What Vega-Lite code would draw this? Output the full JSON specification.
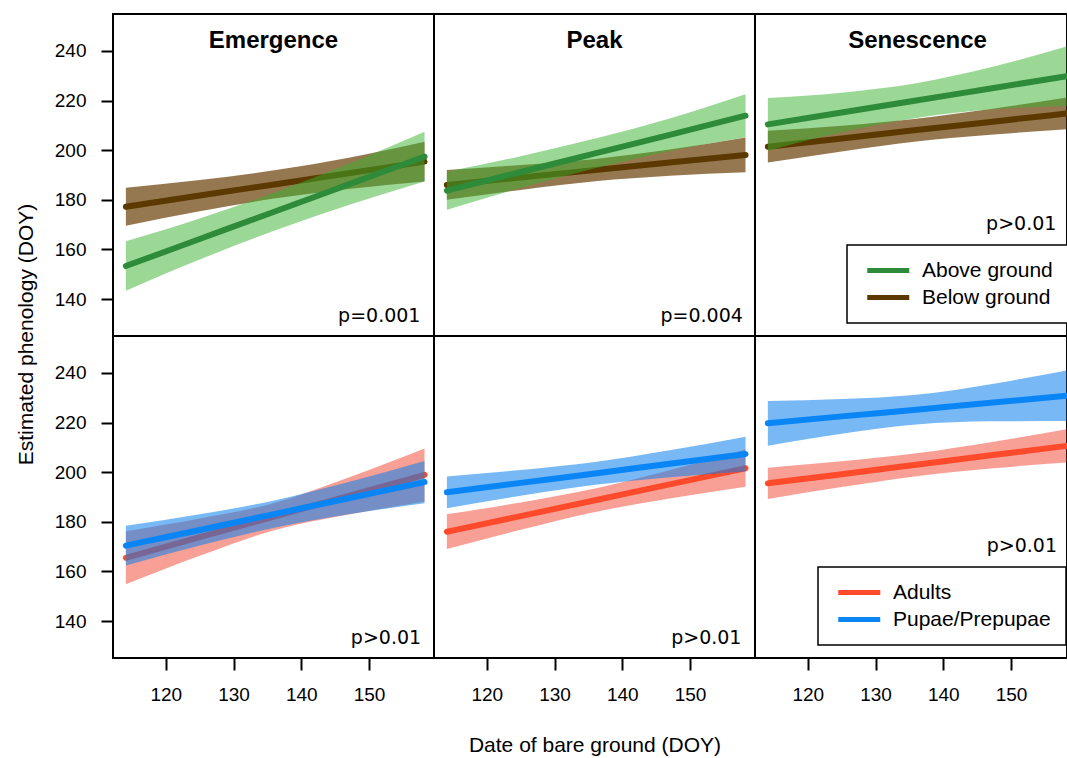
{
  "$schema": "https://vega.github.io/schema/vega-lite/v6.json",
  "background": "white",
  "autosize": {"type": "pad"},
  "padding": {"left": 14, "top": 13, "right": 0, "bottom": 0},
  "config": {
    "view": {"stroke": "black", "strokeWidth": 2},
    "axis": {"domain": false, "grid": false, "tickColor": "black", "tickWidth": 2, "tickSize": 12, "labelColor": "black", "labelFont": "Liberation Sans", "labelFontSize": 19, "labelPadding": 15, "titleFont": "Liberation Sans", "titleFontSize": 21, "titleFontWeight": "normal", "titleColor": "black"},
    "legend": {"strokeColor": "black", "strokeWidth": 1.5, "fillColor": "white", "padding": 15, "symbolType": "M-1,0H7", "symbolStrokeWidth": 5, "symbolSize": 110.25, "labelFont": "Liberation Sans", "labelFontSize": 21, "labelColor": "black", "labelOffset": 39, "rowPadding": 5, "labelLimit": 400}
  },
  "datasets": {
    "fits": [
      {"row": "Location", "phase": "Emergence", "series": "Above ground", "x": 114.1, "fit": 153.3, "lo": 143.3, "hi": 163.3},
      {"row": "Location", "phase": "Emergence", "series": "Above ground", "x": 125, "fit": 164.2, "lo": 155.9, "hi": 172.5},
      {"row": "Location", "phase": "Emergence", "series": "Above ground", "x": 136, "fit": 175.2, "lo": 167.5, "hi": 182.9},
      {"row": "Location", "phase": "Emergence", "series": "Above ground", "x": 147, "fit": 186.2, "lo": 177.9, "hi": 194.5},
      {"row": "Location", "phase": "Emergence", "series": "Above ground", "x": 158.2, "fit": 197.4, "lo": 187.4, "hi": 207.4},
      {"row": "Location", "phase": "Emergence", "series": "Below ground", "x": 114.1, "fit": 177.2, "lo": 169.5, "hi": 184.9},
      {"row": "Location", "phase": "Emergence", "series": "Below ground", "x": 125, "fit": 181.7, "lo": 175.4, "hi": 188.0},
      {"row": "Location", "phase": "Emergence", "series": "Below ground", "x": 136, "fit": 186.2, "lo": 180.5, "hi": 191.9},
      {"row": "Location", "phase": "Emergence", "series": "Below ground", "x": 147, "fit": 190.7, "lo": 184.4, "hi": 197.0},
      {"row": "Location", "phase": "Emergence", "series": "Below ground", "x": 158.2, "fit": 195.4, "lo": 187.4, "hi": 203.4},
      {"row": "Location", "phase": "Peak", "series": "Above ground", "x": 114.1, "fit": 183.7, "lo": 176.0, "hi": 191.4},
      {"row": "Location", "phase": "Peak", "series": "Above ground", "x": 125, "fit": 191.2, "lo": 184.8, "hi": 197.6},
      {"row": "Location", "phase": "Peak", "series": "Above ground", "x": 136, "fit": 198.7, "lo": 192.7, "hi": 204.7},
      {"row": "Location", "phase": "Peak", "series": "Above ground", "x": 147, "fit": 206.2, "lo": 199.6, "hi": 212.8},
      {"row": "Location", "phase": "Peak", "series": "Above ground", "x": 158.2, "fit": 213.9, "lo": 205.2, "hi": 222.6},
      {"row": "Location", "phase": "Peak", "series": "Below ground", "x": 114.1, "fit": 186.0, "lo": 180.0, "hi": 192.0},
      {"row": "Location", "phase": "Peak", "series": "Below ground", "x": 125, "fit": 189.0, "lo": 184.0, "hi": 194.0},
      {"row": "Location", "phase": "Peak", "series": "Below ground", "x": 136, "fit": 192.0, "lo": 187.5, "hi": 196.5},
      {"row": "Location", "phase": "Peak", "series": "Below ground", "x": 147, "fit": 195.0, "lo": 189.7, "hi": 200.3},
      {"row": "Location", "phase": "Peak", "series": "Below ground", "x": 158.2, "fit": 198.1, "lo": 191.1, "hi": 205.1},
      {"row": "Location", "phase": "Senescence", "series": "Above ground", "x": 114.1, "fit": 210.4, "lo": 199.8, "hi": 221.0},
      {"row": "Location", "phase": "Senescence", "series": "Above ground", "x": 125, "fit": 215.2, "lo": 207.2, "hi": 223.2},
      {"row": "Location", "phase": "Senescence", "series": "Above ground", "x": 136, "fit": 220.0, "lo": 213.0, "hi": 227.0},
      {"row": "Location", "phase": "Senescence", "series": "Above ground", "x": 147, "fit": 224.9, "lo": 216.4, "hi": 233.4},
      {"row": "Location", "phase": "Senescence", "series": "Above ground", "x": 158.2, "fit": 229.8, "lo": 217.8, "hi": 241.8},
      {"row": "Location", "phase": "Senescence", "series": "Below ground", "x": 114.1, "fit": 201.4, "lo": 195.0, "hi": 207.8},
      {"row": "Location", "phase": "Senescence", "series": "Below ground", "x": 125, "fit": 204.7, "lo": 199.5, "hi": 209.9},
      {"row": "Location", "phase": "Senescence", "series": "Below ground", "x": 136, "fit": 208.1, "lo": 203.5, "hi": 212.7},
      {"row": "Location", "phase": "Senescence", "series": "Below ground", "x": 147, "fit": 211.4, "lo": 206.2, "hi": 216.6},
      {"row": "Location", "phase": "Senescence", "series": "Below ground", "x": 158.2, "fit": 214.8, "lo": 208.4, "hi": 221.2},
      {"row": "Stage", "phase": "Emergence", "series": "Adults", "x": 114.1, "fit": 165.5, "lo": 154.8, "hi": 176.2},
      {"row": "Stage", "phase": "Emergence", "series": "Adults", "x": 125, "fit": 173.8, "lo": 166.3, "hi": 181.3},
      {"row": "Stage", "phase": "Emergence", "series": "Adults", "x": 136, "fit": 182.1, "lo": 176.6, "hi": 187.6},
      {"row": "Stage", "phase": "Emergence", "series": "Adults", "x": 147, "fit": 190.4, "lo": 182.9, "hi": 197.9},
      {"row": "Stage", "phase": "Emergence", "series": "Adults", "x": 158.2, "fit": 198.9, "lo": 188.2, "hi": 209.6},
      {"row": "Stage", "phase": "Emergence", "series": "Pupae/Prepupae", "x": 114.1, "fit": 170.4, "lo": 162.4, "hi": 178.4},
      {"row": "Stage", "phase": "Emergence", "series": "Pupae/Prepupae", "x": 125, "fit": 176.7, "lo": 170.4, "hi": 183.0},
      {"row": "Stage", "phase": "Emergence", "series": "Pupae/Prepupae", "x": 136, "fit": 183.1, "lo": 177.6, "hi": 188.6},
      {"row": "Stage", "phase": "Emergence", "series": "Pupae/Prepupae", "x": 147, "fit": 189.5, "lo": 183.0, "hi": 196.0},
      {"row": "Stage", "phase": "Emergence", "series": "Pupae/Prepupae", "x": 158.2, "fit": 196.0, "lo": 187.5, "hi": 204.5},
      {"row": "Stage", "phase": "Peak", "series": "Adults", "x": 114.1, "fit": 176.0, "lo": 169.0, "hi": 183.0},
      {"row": "Stage", "phase": "Peak", "series": "Adults", "x": 125, "fit": 182.3, "lo": 176.8, "hi": 187.8},
      {"row": "Stage", "phase": "Peak", "series": "Adults", "x": 136, "fit": 188.7, "lo": 184.0, "hi": 193.4},
      {"row": "Stage", "phase": "Peak", "series": "Adults", "x": 147, "fit": 195.1, "lo": 189.4, "hi": 200.8},
      {"row": "Stage", "phase": "Peak", "series": "Adults", "x": 158.2, "fit": 201.6, "lo": 194.1, "hi": 209.1},
      {"row": "Stage", "phase": "Peak", "series": "Pupae/Prepupae", "x": 114.1, "fit": 191.9, "lo": 185.5, "hi": 198.3},
      {"row": "Stage", "phase": "Peak", "series": "Pupae/Prepupae", "x": 125, "fit": 195.7, "lo": 190.5, "hi": 200.9},
      {"row": "Stage", "phase": "Peak", "series": "Pupae/Prepupae", "x": 136, "fit": 199.5, "lo": 194.9, "hi": 204.1},
      {"row": "Stage", "phase": "Peak", "series": "Pupae/Prepupae", "x": 147, "fit": 203.4, "lo": 198.0, "hi": 208.8},
      {"row": "Stage", "phase": "Peak", "series": "Pupae/Prepupae", "x": 158.2, "fit": 207.3, "lo": 200.3, "hi": 214.3},
      {"row": "Stage", "phase": "Senescence", "series": "Adults", "x": 114.1, "fit": 195.5, "lo": 189.2, "hi": 201.8},
      {"row": "Stage", "phase": "Senescence", "series": "Adults", "x": 125, "fit": 199.2, "lo": 194.0, "hi": 204.4},
      {"row": "Stage", "phase": "Senescence", "series": "Adults", "x": 136, "fit": 203.0, "lo": 198.4, "hi": 207.6},
      {"row": "Stage", "phase": "Senescence", "series": "Adults", "x": 147, "fit": 206.8, "lo": 201.5, "hi": 212.1},
      {"row": "Stage", "phase": "Senescence", "series": "Adults", "x": 158.2, "fit": 210.6, "lo": 203.9, "hi": 217.3},
      {"row": "Stage", "phase": "Senescence", "series": "Pupae/Prepupae", "x": 114.1, "fit": 219.7, "lo": 210.7, "hi": 228.7},
      {"row": "Stage", "phase": "Senescence", "series": "Pupae/Prepupae", "x": 125, "fit": 222.5, "lo": 215.5, "hi": 229.5},
      {"row": "Stage", "phase": "Senescence", "series": "Pupae/Prepupae", "x": 136, "fit": 225.2, "lo": 219.2, "hi": 231.2},
      {"row": "Stage", "phase": "Senescence", "series": "Pupae/Prepupae", "x": 147, "fit": 228.0, "lo": 220.5, "hi": 235.5},
      {"row": "Stage", "phase": "Senescence", "series": "Pupae/Prepupae", "x": 158.2, "fit": 230.8, "lo": 220.6, "hi": 241.0}
    ],
    "annot": [
      {"row": "Location", "phase": "Emergence", "p": "p=0.001"},
      {"row": "Location", "phase": "Peak", "p": "p=0.004"},
      {"row": "Location", "phase": "Senescence", "p": "p>0.01"},
      {"row": "Stage", "phase": "Emergence", "p": "p>0.01"},
      {"row": "Stage", "phase": "Peak", "p": "p>0.01"},
      {"row": "Stage", "phase": "Senescence", "p": "p>0.01"}
    ]
  },
  "columns": 3,
  "spacing": 0,
  "bounds": "flush",
  "resolve": {
    "scale": {"x": "independent", "y": "independent", "fill": "independent", "stroke": "independent"},
    "axis": {"x": "independent", "y": "independent"},
    "legend": {"stroke": "independent", "fill": "independent"}
  },
  "concat": [
    {
      "width": 321, "height": 322,
      "layer": [
        {"data": {"name": "fits"}, "transform": [{"filter": "datum.row === 'Location' && datum.phase === 'Emergence' && datum.series === 'Below ground'"}],
         "mark": {"type": "area", "opacity": 0.7, "clip": true, "interpolate": "monotone"},
         "encoding": {
           "x": {"field": "x", "type": "quantitative", "scale": {"domain": [112.2, 159.6], "nice": false, "zero": false}, "axis": null},
           "y": {"field": "lo", "type": "quantitative", "scale": {"domain": [125.1, 254.9], "nice": false, "zero": false}, "axis": {"values": [140, 160, 180, 200, 220, 240], "title": "Estimated phenology (DOY)", "titleY": 320, "titlePadding": 18}},
           "y2": {"field": "hi"},
           "fill": {"field": "series", "type": "nominal", "scale": {"domain": ["Below ground", "Above ground"], "range": ["#693E05", "#37B12D"]}, "legend": null}}},
        {"data": {"name": "fits"}, "transform": [{"filter": "datum.row === 'Location' && datum.phase === 'Emergence' && datum.series === 'Below ground'"}],
         "mark": {"type": "line", "strokeWidth": 6, "strokeCap": "round", "clip": true, "interpolate": "monotone"},
         "encoding": {
           "x": {"field": "x", "type": "quantitative", "scale": {"domain": [112.2, 159.6], "nice": false, "zero": false}, "axis": null},
           "y": {"field": "fit", "type": "quantitative", "scale": {"domain": [125.1, 254.9], "nice": false, "zero": false}, "axis": {"values": [140, 160, 180, 200, 220, 240], "title": "Estimated phenology (DOY)", "titleY": 320, "titlePadding": 18}},
           "stroke": {"field": "series", "type": "nominal", "scale": {"domain": ["Above ground", "Below ground"], "range": ["#2E8B3A", "#5C3900"]}, "legend": null}}},
        {"data": {"name": "fits"}, "transform": [{"filter": "datum.row === 'Location' && datum.phase === 'Emergence' && datum.series === 'Above ground'"}],
         "mark": {"type": "area", "opacity": 0.5, "clip": true, "interpolate": "monotone"},
         "encoding": {
           "x": {"field": "x", "type": "quantitative", "scale": {"domain": [112.2, 159.6], "nice": false, "zero": false}, "axis": null},
           "y": {"field": "lo", "type": "quantitative", "scale": {"domain": [125.1, 254.9], "nice": false, "zero": false}, "axis": {"values": [140, 160, 180, 200, 220, 240], "title": "Estimated phenology (DOY)", "titleY": 320, "titlePadding": 18}},
           "y2": {"field": "hi"},
           "fill": {"field": "series", "type": "nominal", "scale": {"domain": ["Below ground", "Above ground"], "range": ["#693E05", "#37B12D"]}, "legend": null}}},
        {"data": {"name": "fits"}, "transform": [{"filter": "datum.row === 'Location' && datum.phase === 'Emergence' && datum.series === 'Above ground'"}],
         "mark": {"type": "line", "strokeWidth": 6, "strokeCap": "round", "clip": true, "interpolate": "monotone"},
         "encoding": {
           "x": {"field": "x", "type": "quantitative", "scale": {"domain": [112.2, 159.6], "nice": false, "zero": false}, "axis": null},
           "y": {"field": "fit", "type": "quantitative", "scale": {"domain": [125.1, 254.9], "nice": false, "zero": false}, "axis": {"values": [140, 160, 180, 200, 220, 240], "title": "Estimated phenology (DOY)", "titleY": 320, "titlePadding": 18}},
           "stroke": {"field": "series", "type": "nominal", "scale": {"domain": ["Above ground", "Below ground"], "range": ["#2E8B3A", "#5C3900"]}, "legend": null}}},
        {"data": {"name": "annot"}, "transform": [{"filter": "datum.row === 'Location' && datum.phase === 'Emergence'"}],
         "mark": {"type": "text", "font": "Liberation Sans", "fontWeight": "bold", "fontSize": 24, "color": "black", "baseline": "middle"},
         "encoding": {
           "x": {"datum": 135.9, "type": "quantitative", "scale": {"domain": [112.2, 159.6], "nice": false, "zero": false}, "axis": null},
           "y": {"datum": 244.0, "type": "quantitative", "scale": {"domain": [125.1, 254.9], "nice": false, "zero": false}, "axis": {"values": [140, 160, 180, 200, 220, 240], "title": "Estimated phenology (DOY)", "titleY": 320, "titlePadding": 18}},
           "text": {"field": "phase"}}},
        {"data": {"name": "annot"}, "transform": [{"filter": "datum.row === 'Location' && datum.phase === 'Emergence'"}],
         "mark": {"type": "text", "font": "DejaVu Sans", "fontSize": 19, "color": "black", "align": "right", "baseline": "alphabetic"},
         "encoding": {
           "x": {"datum": 157.6, "type": "quantitative", "scale": {"domain": [112.2, 159.6], "nice": false, "zero": false}, "axis": null},
           "y": {"datum": 130.8, "type": "quantitative", "scale": {"domain": [125.1, 254.9], "nice": false, "zero": false}, "axis": {"values": [140, 160, 180, 200, 220, 240], "title": "Estimated phenology (DOY)", "titleY": 320, "titlePadding": 18}},
           "text": {"field": "p"}}}
      ]
    },
    {
      "width": 321, "height": 322,
      "layer": [
        {"data": {"name": "fits"}, "transform": [{"filter": "datum.row === 'Location' && datum.phase === 'Peak' && datum.series === 'Below ground'"}],
         "mark": {"type": "area", "opacity": 0.7, "clip": true, "interpolate": "monotone"},
         "encoding": {
           "x": {"field": "x", "type": "quantitative", "scale": {"domain": [112.2, 159.6], "nice": false, "zero": false}, "axis": null},
           "y": {"field": "lo", "type": "quantitative", "scale": {"domain": [125.1, 254.9], "nice": false, "zero": false}, "axis": null},
           "y2": {"field": "hi"},
           "fill": {"field": "series", "type": "nominal", "scale": {"domain": ["Below ground", "Above ground"], "range": ["#693E05", "#37B12D"]}, "legend": null}}},
        {"data": {"name": "fits"}, "transform": [{"filter": "datum.row === 'Location' && datum.phase === 'Peak' && datum.series === 'Below ground'"}],
         "mark": {"type": "line", "strokeWidth": 6, "strokeCap": "round", "clip": true, "interpolate": "monotone"},
         "encoding": {
           "x": {"field": "x", "type": "quantitative", "scale": {"domain": [112.2, 159.6], "nice": false, "zero": false}, "axis": null},
           "y": {"field": "fit", "type": "quantitative", "scale": {"domain": [125.1, 254.9], "nice": false, "zero": false}, "axis": null},
           "stroke": {"field": "series", "type": "nominal", "scale": {"domain": ["Above ground", "Below ground"], "range": ["#2E8B3A", "#5C3900"]}, "legend": null}}},
        {"data": {"name": "fits"}, "transform": [{"filter": "datum.row === 'Location' && datum.phase === 'Peak' && datum.series === 'Above ground'"}],
         "mark": {"type": "area", "opacity": 0.5, "clip": true, "interpolate": "monotone"},
         "encoding": {
           "x": {"field": "x", "type": "quantitative", "scale": {"domain": [112.2, 159.6], "nice": false, "zero": false}, "axis": null},
           "y": {"field": "lo", "type": "quantitative", "scale": {"domain": [125.1, 254.9], "nice": false, "zero": false}, "axis": null},
           "y2": {"field": "hi"},
           "fill": {"field": "series", "type": "nominal", "scale": {"domain": ["Below ground", "Above ground"], "range": ["#693E05", "#37B12D"]}, "legend": null}}},
        {"data": {"name": "fits"}, "transform": [{"filter": "datum.row === 'Location' && datum.phase === 'Peak' && datum.series === 'Above ground'"}],
         "mark": {"type": "line", "strokeWidth": 6, "strokeCap": "round", "clip": true, "interpolate": "monotone"},
         "encoding": {
           "x": {"field": "x", "type": "quantitative", "scale": {"domain": [112.2, 159.6], "nice": false, "zero": false}, "axis": null},
           "y": {"field": "fit", "type": "quantitative", "scale": {"domain": [125.1, 254.9], "nice": false, "zero": false}, "axis": null},
           "stroke": {"field": "series", "type": "nominal", "scale": {"domain": ["Above ground", "Below ground"], "range": ["#2E8B3A", "#5C3900"]}, "legend": null}}},
        {"data": {"name": "annot"}, "transform": [{"filter": "datum.row === 'Location' && datum.phase === 'Peak'"}],
         "mark": {"type": "text", "font": "Liberation Sans", "fontWeight": "bold", "fontSize": 24, "color": "black", "baseline": "middle"},
         "encoding": {
           "x": {"datum": 135.9, "type": "quantitative", "scale": {"domain": [112.2, 159.6], "nice": false, "zero": false}, "axis": null},
           "y": {"datum": 244.0, "type": "quantitative", "scale": {"domain": [125.1, 254.9], "nice": false, "zero": false}, "axis": null},
           "text": {"field": "phase"}}},
        {"data": {"name": "annot"}, "transform": [{"filter": "datum.row === 'Location' && datum.phase === 'Peak'"}],
         "mark": {"type": "text", "font": "DejaVu Sans", "fontSize": 19, "color": "black", "align": "right", "baseline": "alphabetic"},
         "encoding": {
           "x": {"datum": 157.8, "type": "quantitative", "scale": {"domain": [112.2, 159.6], "nice": false, "zero": false}, "axis": null},
           "y": {"datum": 130.8, "type": "quantitative", "scale": {"domain": [125.1, 254.9], "nice": false, "zero": false}, "axis": null},
           "text": {"field": "p"}}}
      ]
    },
    {
      "width": 312, "height": 322,
      "layer": [
        {"data": {"name": "fits"}, "transform": [{"filter": "datum.row === 'Location' && datum.phase === 'Senescence' && datum.series === 'Below ground'"}],
         "mark": {"type": "area", "opacity": 0.7, "clip": true, "interpolate": "monotone"},
         "encoding": {
           "x": {"field": "x", "type": "quantitative", "scale": {"domain": [112.2, 158.27], "nice": false, "zero": false}, "axis": null},
           "y": {"field": "lo", "type": "quantitative", "scale": {"domain": [125.1, 254.9], "nice": false, "zero": false}, "axis": null},
           "y2": {"field": "hi"},
           "fill": {"field": "series", "type": "nominal", "scale": {"domain": ["Below ground", "Above ground"], "range": ["#693E05", "#37B12D"]}, "legend": null}}},
        {"data": {"name": "fits"}, "transform": [{"filter": "datum.row === 'Location' && datum.phase === 'Senescence' && datum.series === 'Below ground'"}],
         "mark": {"type": "line", "strokeWidth": 6, "strokeCap": "round", "clip": true, "interpolate": "monotone"},
         "encoding": {
           "x": {"field": "x", "type": "quantitative", "scale": {"domain": [112.2, 158.27], "nice": false, "zero": false}, "axis": null},
           "y": {"field": "fit", "type": "quantitative", "scale": {"domain": [125.1, 254.9], "nice": false, "zero": false}, "axis": null},
           "stroke": {"field": "series", "type": "nominal", "scale": {"domain": ["Above ground", "Below ground"], "range": ["#2E8B3A", "#5C3900"]}, "legend": {"orient": "none", "legendX": 92, "legendY": 231, "title": null}}}},
        {"data": {"name": "fits"}, "transform": [{"filter": "datum.row === 'Location' && datum.phase === 'Senescence' && datum.series === 'Above ground'"}],
         "mark": {"type": "area", "opacity": 0.5, "clip": true, "interpolate": "monotone"},
         "encoding": {
           "x": {"field": "x", "type": "quantitative", "scale": {"domain": [112.2, 158.27], "nice": false, "zero": false}, "axis": null},
           "y": {"field": "lo", "type": "quantitative", "scale": {"domain": [125.1, 254.9], "nice": false, "zero": false}, "axis": null},
           "y2": {"field": "hi"},
           "fill": {"field": "series", "type": "nominal", "scale": {"domain": ["Below ground", "Above ground"], "range": ["#693E05", "#37B12D"]}, "legend": null}}},
        {"data": {"name": "fits"}, "transform": [{"filter": "datum.row === 'Location' && datum.phase === 'Senescence' && datum.series === 'Above ground'"}],
         "mark": {"type": "line", "strokeWidth": 6, "strokeCap": "round", "clip": true, "interpolate": "monotone"},
         "encoding": {
           "x": {"field": "x", "type": "quantitative", "scale": {"domain": [112.2, 158.27], "nice": false, "zero": false}, "axis": null},
           "y": {"field": "fit", "type": "quantitative", "scale": {"domain": [125.1, 254.9], "nice": false, "zero": false}, "axis": null},
           "stroke": {"field": "series", "type": "nominal", "scale": {"domain": ["Above ground", "Below ground"], "range": ["#2E8B3A", "#5C3900"]}, "legend": {"orient": "none", "legendX": 92, "legendY": 231, "title": null}}}},
        {"data": {"name": "annot"}, "transform": [{"filter": "datum.row === 'Location' && datum.phase === 'Senescence'"}],
         "mark": {"type": "text", "font": "Liberation Sans", "fontWeight": "bold", "fontSize": 24, "color": "black", "baseline": "middle"},
         "encoding": {
           "x": {"datum": 136.2, "type": "quantitative", "scale": {"domain": [112.2, 158.27], "nice": false, "zero": false}, "axis": null},
           "y": {"datum": 244.0, "type": "quantitative", "scale": {"domain": [125.1, 254.9], "nice": false, "zero": false}, "axis": null},
           "text": {"field": "phase"}}},
        {"data": {"name": "annot"}, "transform": [{"filter": "datum.row === 'Location' && datum.phase === 'Senescence'"}],
         "mark": {"type": "text", "font": "DejaVu Sans", "fontSize": 19, "color": "black", "align": "right", "baseline": "alphabetic"},
         "encoding": {
           "x": {"datum": 156.7, "type": "quantitative", "scale": {"domain": [112.2, 158.27], "nice": false, "zero": false}, "axis": null},
           "y": {"datum": 167.7, "type": "quantitative", "scale": {"domain": [125.1, 254.9], "nice": false, "zero": false}, "axis": null},
           "text": {"field": "p"}}}
      ]
    },
    {
      "width": 321, "height": 322,
      "layer": [
        {"data": {"name": "fits"}, "transform": [{"filter": "datum.row === 'Stage' && datum.phase === 'Emergence' && datum.series === 'Adults'"}],
         "mark": {"type": "area", "opacity": 0.5, "clip": true, "interpolate": "monotone"},
         "encoding": {
           "x": {"field": "x", "type": "quantitative", "scale": {"domain": [112.2, 159.6], "nice": false, "zero": false}, "axis": {"values": [120, 130, 140, 150], "title": null}},
           "y": {"field": "lo", "type": "quantitative", "scale": {"domain": [125.1, 254.9], "nice": false, "zero": false}, "axis": {"values": [140, 160, 180, 200, 220, 240], "title": null}},
           "y2": {"field": "hi"},
           "fill": {"field": "series", "type": "nominal", "scale": {"domain": ["Pupae/Prepupae", "Adults"], "range": ["#0A80ED", "#F1412D"]}, "legend": null}}},
        {"data": {"name": "fits"}, "transform": [{"filter": "datum.row === 'Stage' && datum.phase === 'Emergence' && datum.series === 'Adults'"}],
         "mark": {"type": "line", "strokeWidth": 6, "strokeCap": "round", "clip": true, "interpolate": "monotone"},
         "encoding": {
           "x": {"field": "x", "type": "quantitative", "scale": {"domain": [112.2, 159.6], "nice": false, "zero": false}, "axis": {"values": [120, 130, 140, 150], "title": null}},
           "y": {"field": "fit", "type": "quantitative", "scale": {"domain": [125.1, 254.9], "nice": false, "zero": false}, "axis": {"values": [140, 160, 180, 200, 220, 240], "title": null}},
           "stroke": {"field": "series", "type": "nominal", "scale": {"domain": ["Adults", "Pupae/Prepupae"], "range": ["#FF4B2B", "#0A85F5"]}, "legend": null}}},
        {"data": {"name": "fits"}, "transform": [{"filter": "datum.row === 'Stage' && datum.phase === 'Emergence' && datum.series === 'Pupae/Prepupae'"}],
         "mark": {"type": "area", "opacity": 0.55, "clip": true, "interpolate": "monotone"},
         "encoding": {
           "x": {"field": "x", "type": "quantitative", "scale": {"domain": [112.2, 159.6], "nice": false, "zero": false}, "axis": {"values": [120, 130, 140, 150], "title": null}},
           "y": {"field": "lo", "type": "quantitative", "scale": {"domain": [125.1, 254.9], "nice": false, "zero": false}, "axis": {"values": [140, 160, 180, 200, 220, 240], "title": null}},
           "y2": {"field": "hi"},
           "fill": {"field": "series", "type": "nominal", "scale": {"domain": ["Pupae/Prepupae", "Adults"], "range": ["#0A80ED", "#F1412D"]}, "legend": null}}},
        {"data": {"name": "fits"}, "transform": [{"filter": "datum.row === 'Stage' && datum.phase === 'Emergence' && datum.series === 'Pupae/Prepupae'"}],
         "mark": {"type": "line", "strokeWidth": 6, "strokeCap": "round", "clip": true, "interpolate": "monotone"},
         "encoding": {
           "x": {"field": "x", "type": "quantitative", "scale": {"domain": [112.2, 159.6], "nice": false, "zero": false}, "axis": {"values": [120, 130, 140, 150], "title": null}},
           "y": {"field": "fit", "type": "quantitative", "scale": {"domain": [125.1, 254.9], "nice": false, "zero": false}, "axis": {"values": [140, 160, 180, 200, 220, 240], "title": null}},
           "stroke": {"field": "series", "type": "nominal", "scale": {"domain": ["Adults", "Pupae/Prepupae"], "range": ["#FF4B2B", "#0A85F5"]}, "legend": null}}},
        {"data": {"name": "annot"}, "transform": [{"filter": "datum.row === 'Stage' && datum.phase === 'Emergence'"}],
         "mark": {"type": "text", "font": "DejaVu Sans", "fontSize": 19, "color": "black", "align": "right", "baseline": "alphabetic"},
         "encoding": {
           "x": {"datum": 157.7, "type": "quantitative", "scale": {"domain": [112.2, 159.6], "nice": false, "zero": false}, "axis": {"values": [120, 130, 140, 150], "title": null}},
           "y": {"datum": 130.8, "type": "quantitative", "scale": {"domain": [125.1, 254.9], "nice": false, "zero": false}, "axis": {"values": [140, 160, 180, 200, 220, 240], "title": null}},
           "text": {"field": "p"}}}
      ]
    },
    {
      "width": 321, "height": 322,
      "layer": [
        {"data": {"name": "fits"}, "transform": [{"filter": "datum.row === 'Stage' && datum.phase === 'Peak' && datum.series === 'Adults'"}],
         "mark": {"type": "area", "opacity": 0.5, "clip": true, "interpolate": "monotone"},
         "encoding": {
           "x": {"field": "x", "type": "quantitative", "scale": {"domain": [112.2, 159.6], "nice": false, "zero": false}, "axis": {"values": [120, 130, 140, 150], "title": "Date of bare ground (DOY)", "titlePadding": 30}},
           "y": {"field": "lo", "type": "quantitative", "scale": {"domain": [125.1, 254.9], "nice": false, "zero": false}, "axis": null},
           "y2": {"field": "hi"},
           "fill": {"field": "series", "type": "nominal", "scale": {"domain": ["Pupae/Prepupae", "Adults"], "range": ["#0A80ED", "#F1412D"]}, "legend": null}}},
        {"data": {"name": "fits"}, "transform": [{"filter": "datum.row === 'Stage' && datum.phase === 'Peak' && datum.series === 'Adults'"}],
         "mark": {"type": "line", "strokeWidth": 6, "strokeCap": "round", "clip": true, "interpolate": "monotone"},
         "encoding": {
           "x": {"field": "x", "type": "quantitative", "scale": {"domain": [112.2, 159.6], "nice": false, "zero": false}, "axis": {"values": [120, 130, 140, 150], "title": "Date of bare ground (DOY)", "titlePadding": 30}},
           "y": {"field": "fit", "type": "quantitative", "scale": {"domain": [125.1, 254.9], "nice": false, "zero": false}, "axis": null},
           "stroke": {"field": "series", "type": "nominal", "scale": {"domain": ["Adults", "Pupae/Prepupae"], "range": ["#FF4B2B", "#0A85F5"]}, "legend": null}}},
        {"data": {"name": "fits"}, "transform": [{"filter": "datum.row === 'Stage' && datum.phase === 'Peak' && datum.series === 'Pupae/Prepupae'"}],
         "mark": {"type": "area", "opacity": 0.55, "clip": true, "interpolate": "monotone"},
         "encoding": {
           "x": {"field": "x", "type": "quantitative", "scale": {"domain": [112.2, 159.6], "nice": false, "zero": false}, "axis": {"values": [120, 130, 140, 150], "title": "Date of bare ground (DOY)", "titlePadding": 30}},
           "y": {"field": "lo", "type": "quantitative", "scale": {"domain": [125.1, 254.9], "nice": false, "zero": false}, "axis": null},
           "y2": {"field": "hi"},
           "fill": {"field": "series", "type": "nominal", "scale": {"domain": ["Pupae/Prepupae", "Adults"], "range": ["#0A80ED", "#F1412D"]}, "legend": null}}},
        {"data": {"name": "fits"}, "transform": [{"filter": "datum.row === 'Stage' && datum.phase === 'Peak' && datum.series === 'Pupae/Prepupae'"}],
         "mark": {"type": "line", "strokeWidth": 6, "strokeCap": "round", "clip": true, "interpolate": "monotone"},
         "encoding": {
           "x": {"field": "x", "type": "quantitative", "scale": {"domain": [112.2, 159.6], "nice": false, "zero": false}, "axis": {"values": [120, 130, 140, 150], "title": "Date of bare ground (DOY)", "titlePadding": 30}},
           "y": {"field": "fit", "type": "quantitative", "scale": {"domain": [125.1, 254.9], "nice": false, "zero": false}, "axis": null},
           "stroke": {"field": "series", "type": "nominal", "scale": {"domain": ["Adults", "Pupae/Prepupae"], "range": ["#FF4B2B", "#0A85F5"]}, "legend": null}}},
        {"data": {"name": "annot"}, "transform": [{"filter": "datum.row === 'Stage' && datum.phase === 'Peak'"}],
         "mark": {"type": "text", "font": "DejaVu Sans", "fontSize": 19, "color": "black", "align": "right", "baseline": "alphabetic"},
         "encoding": {
           "x": {"datum": 157.6, "type": "quantitative", "scale": {"domain": [112.2, 159.6], "nice": false, "zero": false}, "axis": {"values": [120, 130, 140, 150], "title": "Date of bare ground (DOY)", "titlePadding": 30}},
           "y": {"datum": 130.8, "type": "quantitative", "scale": {"domain": [125.1, 254.9], "nice": false, "zero": false}, "axis": null},
           "text": {"field": "p"}}}
      ]
    },
    {
      "width": 312, "height": 322,
      "layer": [
        {"data": {"name": "fits"}, "transform": [{"filter": "datum.row === 'Stage' && datum.phase === 'Senescence' && datum.series === 'Adults'"}],
         "mark": {"type": "area", "opacity": 0.5, "clip": true, "interpolate": "monotone"},
         "encoding": {
           "x": {"field": "x", "type": "quantitative", "scale": {"domain": [112.2, 158.27], "nice": false, "zero": false}, "axis": {"values": [120, 130, 140, 150], "title": null}},
           "y": {"field": "lo", "type": "quantitative", "scale": {"domain": [125.1, 254.9], "nice": false, "zero": false}, "axis": null},
           "y2": {"field": "hi"},
           "fill": {"field": "series", "type": "nominal", "scale": {"domain": ["Pupae/Prepupae", "Adults"], "range": ["#0A80ED", "#F1412D"]}, "legend": null}}},
        {"data": {"name": "fits"}, "transform": [{"filter": "datum.row === 'Stage' && datum.phase === 'Senescence' && datum.series === 'Adults'"}],
         "mark": {"type": "line", "strokeWidth": 6, "strokeCap": "round", "clip": true, "interpolate": "monotone"},
         "encoding": {
           "x": {"field": "x", "type": "quantitative", "scale": {"domain": [112.2, 158.27], "nice": false, "zero": false}, "axis": {"values": [120, 130, 140, 150], "title": null}},
           "y": {"field": "fit", "type": "quantitative", "scale": {"domain": [125.1, 254.9], "nice": false, "zero": false}, "axis": null},
           "stroke": {"field": "series", "type": "nominal", "scale": {"domain": ["Adults", "Pupae/Prepupae"], "range": ["#FF4B2B", "#0A85F5"]}, "legend": {"orient": "none", "legendX": 63, "legendY": 231, "title": null}}}},
        {"data": {"name": "fits"}, "transform": [{"filter": "datum.row === 'Stage' && datum.phase === 'Senescence' && datum.series === 'Pupae/Prepupae'"}],
         "mark": {"type": "area", "opacity": 0.55, "clip": true, "interpolate": "monotone"},
         "encoding": {
           "x": {"field": "x", "type": "quantitative", "scale": {"domain": [112.2, 158.27], "nice": false, "zero": false}, "axis": {"values": [120, 130, 140, 150], "title": null}},
           "y": {"field": "lo", "type": "quantitative", "scale": {"domain": [125.1, 254.9], "nice": false, "zero": false}, "axis": null},
           "y2": {"field": "hi"},
           "fill": {"field": "series", "type": "nominal", "scale": {"domain": ["Pupae/Prepupae", "Adults"], "range": ["#0A80ED", "#F1412D"]}, "legend": null}}},
        {"data": {"name": "fits"}, "transform": [{"filter": "datum.row === 'Stage' && datum.phase === 'Senescence' && datum.series === 'Pupae/Prepupae'"}],
         "mark": {"type": "line", "strokeWidth": 6, "strokeCap": "round", "clip": true, "interpolate": "monotone"},
         "encoding": {
           "x": {"field": "x", "type": "quantitative", "scale": {"domain": [112.2, 158.27], "nice": false, "zero": false}, "axis": {"values": [120, 130, 140, 150], "title": null}},
           "y": {"field": "fit", "type": "quantitative", "scale": {"domain": [125.1, 254.9], "nice": false, "zero": false}, "axis": null},
           "stroke": {"field": "series", "type": "nominal", "scale": {"domain": ["Adults", "Pupae/Prepupae"], "range": ["#FF4B2B", "#0A85F5"]}, "legend": {"orient": "none", "legendX": 63, "legendY": 231, "title": null}}}},
        {"data": {"name": "annot"}, "transform": [{"filter": "datum.row === 'Stage' && datum.phase === 'Senescence'"}],
         "mark": {"type": "text", "font": "DejaVu Sans", "fontSize": 19, "color": "black", "align": "right", "baseline": "alphabetic"},
         "encoding": {
           "x": {"datum": 156.8, "type": "quantitative", "scale": {"domain": [112.2, 158.27], "nice": false, "zero": false}, "axis": {"values": [120, 130, 140, 150], "title": null}},
           "y": {"datum": 167.7, "type": "quantitative", "scale": {"domain": [125.1, 254.9], "nice": false, "zero": false}, "axis": null},
           "text": {"field": "p"}}}
      ]
    }
  ]
}
